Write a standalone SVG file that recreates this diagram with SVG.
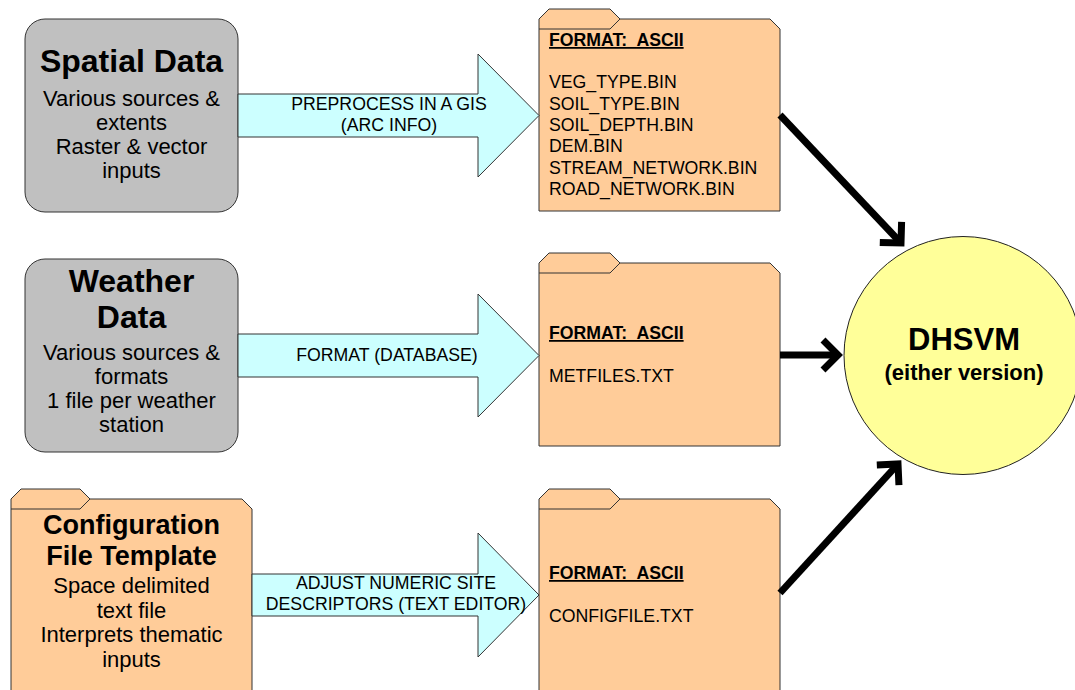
<svg xmlns="http://www.w3.org/2000/svg" width="1075" height="690" viewBox="0 0 1075 690">
<style>
text{font-family:"Liberation Sans",Arial,sans-serif;fill:#000}
.box{fill:#c0c0c0;stroke:#333;stroke-width:1}
.folder{fill:#ffcc99;stroke:#333;stroke-width:1}
.tab{fill:none;stroke:#333;stroke-width:1}
.blk{fill:#ccffff;stroke:#333;stroke-width:1}
.hub{fill:#ffff99;stroke:#222;stroke-width:1}
.t32{font-size:32px;font-weight:bold;text-anchor:middle}
.t27{font-size:27px;font-weight:bold;text-anchor:middle}
.b22{font-size:22px;text-anchor:middle}
.lbl{font-size:17.7px;text-anchor:middle}
.file{font-size:17.7px}
.fmt{font-size:17.7px;font-weight:bold;text-decoration:underline}
.thick{fill:none;stroke:#000;stroke-width:7;marker-end:url(#ah)}
</style>
<defs>
<marker id="ah" markerUnits="userSpaceOnUse" viewBox="-30 -30 40 60" markerWidth="40" markerHeight="60" refX="0" refY="0" orient="auto" overflow="visible">
<path d="M-15,-15 L0,0 L-15,15" fill="none" stroke="#000" stroke-width="7" stroke-linejoin="miter"/>
</marker>
</defs>

<g id="spatial">
<rect class="box" x="25" y="19" width="213" height="193" rx="20"/>
<text class="t32" x="131.5" y="72">Spatial Data</text>
<text class="b22" x="131.5" y="106">Various sources &amp;</text>
<text class="b22" x="131.5" y="130">extents</text>
<text class="b22" x="131.5" y="154">Raster &amp; vector</text>
<text class="b22" x="131.5" y="178">inputs</text>
</g>

<g id="weather">
<rect class="box" x="25" y="259" width="213" height="193" rx="20"/>
<text class="t32" x="131.5" y="292">Weather</text>
<text class="t32" x="131.5" y="328">Data</text>
<text class="b22" x="131.5" y="360">Various sources &amp;</text>
<text class="b22" x="131.5" y="384">formats</text>
<text class="b22" x="131.5" y="408">1 file per weather</text>
<text class="b22" x="131.5" y="432">station</text>
</g>

<g id="config">
<path class="folder" d="M11,695 V499 L21,489 H80 L90,499 H242 L252,509 V695 Z"/>
<path class="tab" d="M11,509 H80 L90,499"/>
<text class="t27" x="131.5" y="534">Configuration</text>
<text class="t27" x="131.5" y="565">File Template</text>
<text class="b22" x="131.5" y="593">Space delimited</text>
<text class="b22" x="131.5" y="618">text file</text>
<text class="b22" x="131.5" y="642">Interprets thematic</text>
<text class="b22" x="131.5" y="667">inputs</text>
</g>

<g id="spatial-files">
<path class="folder" d="M539,211 V19 L549,9 H610 L620,19 H770 L780,29 V211 Z"/>
<path class="tab" d="M539,29 H610 L620,19"/>
<text class="fmt" x="549" y="46" xml:space="preserve">FORMAT:  ASCII</text>
<text class="file" x="549" y="88">VEG_TYPE.BIN</text>
<text class="file" x="549" y="110">SOIL_TYPE.BIN</text>
<text class="file" x="549" y="131">SOIL_DEPTH.BIN</text>
<text class="file" x="549" y="152">DEM.BIN</text>
<text class="file" x="549" y="174">STREAM_NETWORK.BIN</text>
<text class="file" x="549" y="195">ROAD_NETWORK.BIN</text>
</g>

<g id="met-files">
<path class="folder" d="M539,446 V263 L549,253 H610 L620,263 H770 L780,273 V446 Z"/>
<path class="tab" d="M539,273 H610 L620,263"/>
<text class="fmt" x="549" y="339" xml:space="preserve">FORMAT:  ASCII</text>
<text class="file" x="549" y="382">METFILES.TXT</text>
</g>

<g id="config-files">
<path class="folder" d="M539,695 V499 L549,489 H610 L620,499 H770 L780,509 V695 Z"/>
<path class="tab" d="M539,509 H610 L620,499"/>
<text class="fmt" x="549" y="579" xml:space="preserve">FORMAT:  ASCII</text>
<text class="file" x="549" y="622">CONFIGFILE.TXT</text>
</g>

<g id="dhsvm">
<circle class="hub" cx="963" cy="355.5" r="119"/>
<text class="t32" x="964" y="350" style="font-size:31px">DHSVM</text>
<text class="lbl" x="964" y="380" style="font-size:22px;font-weight:bold">(either version)</text>
</g>

<g id="connectors">
<polygon class="blk" points="238,94 478,94 478,54 539,115.5 478,177 478,137 238,137"/>
<text class="lbl" x="389" y="110">PREPROCESS IN A GIS</text>
<text class="lbl" x="389" y="131">(ARC INFO)</text>
<polygon class="blk" points="238,334 478,334 478,294 539,355.5 478,417 478,377 238,377"/>
<text class="lbl" x="387" y="361">FORMAT (DATABASE)</text>
<polygon class="blk" points="252,574 478,574 478,533 539,595 478,657 478,616 252,616"/>
<text class="lbl" x="396" y="589">ADJUST NUMERIC SITE</text>
<text class="lbl" x="396" y="610">DESCRIPTORS (TEXT EDITOR)</text>
<line class="thick" x1="780" y1="115" x2="901" y2="243"/>
<line class="thick" x1="780" y1="355" x2="838" y2="355"/>
<line class="thick" x1="780" y1="593" x2="898" y2="464"/>
</g>
</svg>
